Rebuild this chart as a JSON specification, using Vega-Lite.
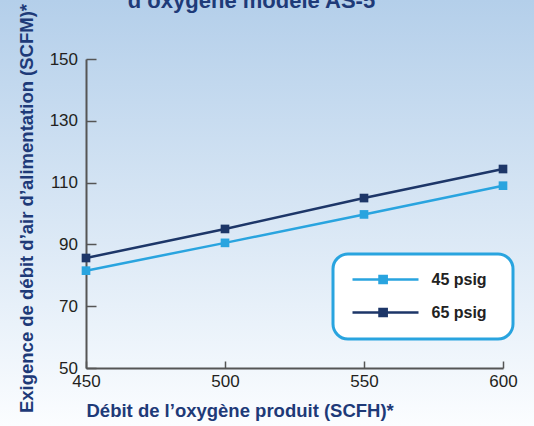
{
  "$schema": "https://vega.github.io/schema/vega-lite/v6.json",
  "width": 534,
  "height": 426,
  "autosize": {"type": "none"},
  "padding": 0,
  "background": "#ffffff",
  "title": {
    "text": "d’oxygène modèle AS-5",
    "font": "Liberation Sans",
    "fontSize": 22,
    "fontWeight": "bold",
    "color": "#1e3a78",
    "anchor": "middle",
    "frame": "group",
    "baseline": "alphabetic",
    "dx": -15.5,
    "dy": 30,
    "offset": 0
  },
  "data": {
    "values": [
      {"flow": 450, "pressure": "45 psig", "air": 81.5},
      {"flow": 500, "pressure": "45 psig", "air": 90.5},
      {"flow": 550, "pressure": "45 psig", "air": 99.7},
      {"flow": 600, "pressure": "45 psig", "air": 109},
      {"flow": 450, "pressure": "65 psig", "air": 85.6},
      {"flow": 500, "pressure": "65 psig", "air": 95},
      {"flow": 550, "pressure": "65 psig", "air": 105},
      {"flow": 600, "pressure": "65 psig", "air": 114.4}
    ]
  },
  "mark": {
    "type": "line",
    "strokeWidth": 2.5,
    "point": {"shape": "square", "size": 75, "filled": true, "opacity": 1}
  },
  "encoding": {
    "x": {
      "field": "flow",
      "type": "quantitative",
      "scale": {"domain": [450, 600], "range": [86, 503], "nice": false, "zero": false},
      "axis": {
        "orient": "bottom",
        "offset": -58,
        "values": [450, 500, 550, 600],
        "tickSize": -7,
        "labelPadding": 12,
        "labelFlush": false,
        "title": "Débit de l’oxygène produit (SCFH)*",
        "titleX": 86,
        "titleY": 48.7,
        "titleAlign": "left",
        "titleBaseline": "alphabetic"
      }
    },
    "y": {
      "field": "air",
      "type": "quantitative",
      "scale": {"domain": [50, 150], "range": [368, 59], "nice": false, "zero": false},
      "axis": {
        "orient": "left",
        "offset": -86,
        "values": [50, 70, 90, 110, 130, 150],
        "tickSize": -10,
        "labelPadding": 18.5,
        "title": "Exigence de débit d’air d’alimentation (SCFM)*",
        "titleX": -54,
        "titleY": 208,
        "titleAngle": -90,
        "titleAlign": "center",
        "titleBaseline": "alphabetic"
      }
    },
    "color": {
      "field": "pressure",
      "type": "nominal",
      "scale": {"domain": ["45 psig", "65 psig"], "range": ["#29a4df", "#1d3668"]},
      "legend": {
        "orient": "none",
        "legendX": 333,
        "legendY": 254,
        "title": " ",
        "titleOrient": "right",
        "titlePadding": 9,
        "titleFontSize": 16,
        "titleFont": "Liberation Sans",
        "padding": 17.5,
        "fillColor": "#ffffff",
        "strokeColor": "#29a4df",
        "cornerRadius": 15,
        "symbolType": "M-1,0H10M3.5,-0.6H4.7V0.6H3.5Z",
        "symbolSize": 144,
        "symbolStrokeWidth": 2.5,
        "labelFont": "Liberation Sans",
        "labelFontWeight": "bold",
        "labelFontSize": 16,
        "labelColor": "#222222",
        "labelOffset": 65,
        "rowPadding": 15,
        "encode": {
          "legend": {
            "update": {
              "strokeWidth": {"value": 3}
            }
          },
          "symbols": {
            "update": {
              "fill": {"scale": "color", "field": "value"},
              "stroke": {"scale": "color", "field": "value"},
              "opacity": {"value": 1}
            }
          }
        }
      }
    }
  },
  "config": {
    "view": {
      "stroke": null,
      "fill": {
        "gradient": "linear",
        "x1": 0, "y1": 0, "x2": 0, "y2": 1,
        "stops": [
          {"offset": 0, "color": "#b4cfea"},
          {"offset": 1, "color": "#fbfdff"}
        ]
      }
    },
    "axis": {
      "grid": false,
      "domainColor": "#555555",
      "domainWidth": 2,
      "tickColor": "#555555",
      "tickWidth": 1.5,
      "labelFont": "Liberation Sans",
      "labelFontSize": 17,
      "labelColor": "#231f20",
      "titleFont": "Liberation Sans",
      "titleFontSize": 18.5,
      "titleFontWeight": "bold",
      "titleColor": "#1e3a78"
    }
  }
}
